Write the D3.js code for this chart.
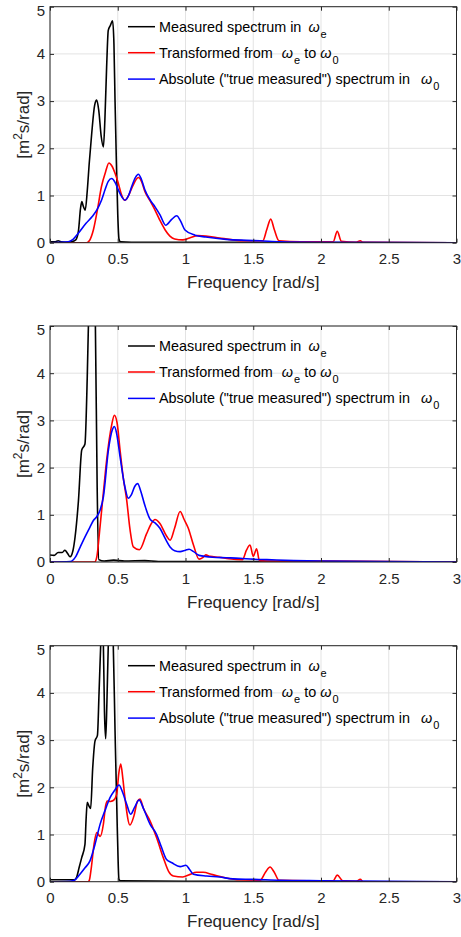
<!DOCTYPE html>
<html>
<head>
<meta charset="utf-8">
<script src="https://cdn.jsdelivr.net/npm/d3@7"></script>
<style>
  body { margin: 0; background: #fff; }
  svg { display: block; font-family: "Liberation Sans", Arial, Helvetica, sans-serif; }
</style>
</head>
<body>
<svg id="chart"></svg>
<script>
// tick values
const xTicks = [0, 0.5, 1, 1.5, 2, 2.5, 3];
const yTicks = [0, 1, 2, 3, 4, 5];

// [frequency, spectrum]
// panel 1
const p1Measured = [[0,0.02],[0.04,0.02],[0.06,0.04],[0.08,0.02],[0.12,0.01],[0.16,0.02],[0.19,0.06],[0.21,0.25],[0.225,0.72],[0.235,0.87],[0.245,0.78],[0.26,0.69],[0.275,1.1],[0.29,1.7],[0.308,2.32],[0.33,2.92],[0.345,3.02],[0.36,2.8],[0.378,2.25],[0.394,2.03],[0.405,2.6],[0.418,3.73],[0.43,4.5],[0.445,4.6],[0.462,4.7],[0.472,4.2],[0.48,3.0],[0.49,1.7],[0.5,0.6],[0.509,0.08],[0.52,0.02],[0.6,0.01],[1,0.01],[1.5,0.01],[3,0]];
const p1Transformed = [[0,0],[0.27,0],[0.29,0.04],[0.32,0.27],[0.35,0.7],[0.38,1.19],[0.41,1.5],[0.435,1.69],[0.458,1.62],[0.48,1.47],[0.505,1.25],[0.524,1.05],[0.553,0.9],[0.58,1.0],[0.61,1.2],[0.652,1.38],[0.675,1.3],[0.701,1.08],[0.74,0.88],[0.775,0.69],[0.81,0.48],[0.85,0.27],[0.885,0.14],[0.92,0.08],[0.98,0.06],[1.03,0.1],[1.09,0.15],[1.15,0.14],[1.25,0.1],[1.35,0.06],[1.45,0.04],[1.57,0.04],[1.6,0.28],[1.629,0.5],[1.655,0.28],[1.69,0.04],[1.85,0.02],[2.09,0.02],[2.12,0.24],[2.15,0.03],[2.26,0.01],[2.29,0.04],[2.31,0.01],[3,0]];
const p1Absolute = [[0,0],[0.135,0.02],[0.17,0.07],[0.209,0.2],[0.266,0.41],[0.31,0.55],[0.345,0.69],[0.38,0.9],[0.406,1.12],[0.43,1.3],[0.455,1.36],[0.48,1.28],[0.504,1.12],[0.53,0.97],[0.553,0.9],[0.58,1.0],[0.603,1.19],[0.63,1.38],[0.652,1.45],[0.675,1.34],[0.7,1.12],[0.74,0.9],[0.775,0.76],[0.812,0.59],[0.854,0.37],[0.9,0.5],[0.935,0.57],[0.965,0.45],[0.996,0.27],[1.07,0.16],[1.15,0.12],[1.3,0.07],[1.45,0.05],[1.55,0.04],[1.7,0.02],[2,0.01],[3,0]];

// panel 2
const p2Measured = [[0,0.15],[0.03,0.14],[0.06,0.2],[0.09,0.2],[0.11,0.25],[0.13,0.18],[0.148,0.11],[0.17,0.25],[0.185,0.53],[0.21,1.3],[0.234,2.37],[0.258,2.5],[0.275,3.93],[0.285,5.2],[0.3,6.5],[0.32,6.3],[0.335,5.0],[0.348,1.6],[0.36,0.05],[0.4,0.02],[0.47,0.04],[0.55,0.02],[0.7,0.03],[0.8,0.01],[1,0.01],[3,0]];
const p2Transformed = [[0,0],[0.33,0],[0.345,0.1],[0.369,0.74],[0.395,1.5],[0.418,2.16],[0.455,2.9],[0.475,3.11],[0.495,2.95],[0.517,2.37],[0.54,1.8],[0.566,1.31],[0.59,0.7],[0.615,0.32],[0.66,0.26],[0.713,0.6],[0.745,0.8],[0.775,0.9],[0.81,0.82],[0.86,0.55],[0.886,0.46],[0.92,0.72],[0.96,1.07],[0.99,0.9],[1.02,0.72],[1.06,0.35],[1.1,0.06],[1.13,0.1],[1.15,0.15],[1.18,0.12],[1.25,0.1],[1.32,0.07],[1.42,0.05],[1.45,0.25],[1.476,0.36],[1.5,0.12],[1.525,0.28],[1.545,0.03],[1.6,0.02],[2,0.02],[3,0]];
const p2Absolute = [[0,0],[0.15,0.01],[0.191,0.12],[0.22,0.3],[0.246,0.46],[0.295,0.74],[0.32,0.88],[0.345,0.96],[0.37,1.1],[0.394,1.38],[0.431,2.37],[0.46,2.8],[0.475,2.87],[0.49,2.75],[0.517,2.23],[0.553,1.59],[0.578,1.35],[0.6,1.42],[0.625,1.6],[0.647,1.66],[0.67,1.5],[0.7,1.2],[0.74,0.9],[0.775,0.83],[0.81,0.72],[0.85,0.5],[0.886,0.32],[0.92,0.24],[0.96,0.22],[1.0,0.25],[1.026,0.27],[1.06,0.22],[1.1,0.14],[1.2,0.1],[1.3,0.09],[1.4,0.08],[1.5,0.06],[1.6,0.05],[1.8,0.03],[2,0.02],[2.5,0.01],[3,0]];

// panel 3
const p3Measured = [[0,0.04],[0.1,0.04],[0.18,0.04],[0.197,0.1],[0.215,0.3],[0.234,0.51],[0.258,0.79],[0.266,1.3],[0.275,1.68],[0.288,1.6],[0.3,1.55],[0.315,2.4],[0.332,2.98],[0.35,3.1],[0.362,4.0],[0.374,5.0],[0.384,5.6],[0.394,5.0],[0.402,3.6],[0.411,3.03],[0.42,3.8],[0.43,5.0],[0.445,5.7],[0.46,5.4],[0.467,5.0],[0.48,3.2],[0.497,1.08],[0.509,0.05],[0.52,0.02],[1,0.01],[3,0]];
const p3Transformed = [[0,0],[0.28,0],[0.29,0.03],[0.305,0.3],[0.325,0.79],[0.345,1.04],[0.37,0.96],[0.394,1.22],[0.41,1.6],[0.423,1.71],[0.445,1.7],[0.467,1.72],[0.492,1.85],[0.508,2.3],[0.522,2.49],[0.537,2.2],[0.553,1.78],[0.59,1.2],[0.62,1.4],[0.645,1.7],[0.664,1.75],[0.69,1.55],[0.738,1.29],[0.787,0.93],[0.836,0.51],[0.875,0.22],[0.91,0.12],[0.98,0.1],[1.03,0.15],[1.08,0.2],[1.13,0.2],[1.2,0.15],[1.3,0.08],[1.4,0.04],[1.55,0.03],[1.59,0.2],[1.624,0.31],[1.655,0.2],[1.69,0.03],[1.9,0.02],[2.09,0.02],[2.12,0.14],[2.16,0.02],[2.26,0.01],[2.29,0.05],[2.31,0],[3,0]];
const p3Absolute = [[0,0],[0.15,0.01],[0.18,0.03],[0.221,0.16],[0.26,0.3],[0.295,0.44],[0.332,0.79],[0.37,1.22],[0.405,1.5],[0.443,1.78],[0.48,1.95],[0.509,2.05],[0.535,1.9],[0.566,1.64],[0.595,1.43],[0.625,1.58],[0.657,1.73],[0.69,1.55],[0.738,1.22],[0.787,1.0],[0.82,0.75],[0.86,0.47],[0.9,0.4],[0.96,0.32],[1.003,0.35],[1.03,0.26],[1.058,0.16],[1.157,0.12],[1.25,0.1],[1.35,0.06],[1.5,0.05],[1.7,0.03],[2,0.02],[3,0]];

const seriesColors = ['#000000', '#ff0000', '#0000ff'];
const xLabel = 'Frequency [rad/s]';

const panels = [
  [p1Measured, p1Transformed, p1Absolute],
  [p2Measured, p2Transformed, p2Absolute],
  [p3Measured, p3Transformed, p3Absolute]
];
const panelTops = [6.7, 326, 645.7];

let W = 461, H = 937;
let marginL = 50, marginR = 4.5;
let ph = 236;

let svg = d3.select('#chart').attr('width', W).attr('height', H);

function addLegend(g) {
  let rows = g.append('g').attr('transform', 'translate(78, 0)');
  let rowY = [20, 46, 72.4];
  seriesColors.forEach((c, i) => {
    rows.append('line')
      .attr('x1', 0).attr('x2', 27)
      .attr('y1', rowY[i]).attr('y2', rowY[i])
      .attr('stroke', c).attr('stroke-width', 1.5);
  });
  let t = (i) => rows.append('text')
    .attr('x', 31).attr('y', rowY[i] + 5)
    .attr('font-size', 14.4).attr('fill', '#000');

  // row 1
  let t1 = t(0);
  t1.append('tspan').text('Measured spectrum in');
  t1.append('tspan').attr('dx', 7).attr('font-style', 'italic').text('ω');
  t1.append('tspan').attr('dx', 1).attr('dy', 6).attr('font-size', 11).text('e');

  // row 2
  let t2 = t(1);
  t2.append('tspan').text('Transformed from');
  t2.append('tspan').attr('dx', 9).attr('font-style', 'italic').text('ω');
  t2.append('tspan').attr('dx', 1).attr('dy', 6).attr('font-size', 11).text('e');
  t2.append('tspan').attr('dx', 4).attr('dy', -6).text('to');
  t2.append('tspan').attr('dx', 4).attr('font-style', 'italic').text('ω');
  t2.append('tspan').attr('dx', 1).attr('dy', 6).attr('font-size', 11).text('0');

  // row 3
  let t3 = t(2);
  t3.append('tspan').text('Absolute ("true measured") spectrum in');
  t3.append('tspan').attr('dx', 11).attr('font-style', 'italic').text('ω');
  t3.append('tspan').attr('dx', 1).attr('dy', 6).attr('font-size', 11).text('0');
}

function makePanel(data, top, idx) {
  let w = W - marginL - marginR;
  let g = svg.append('g').attr('transform', `translate(${marginL}, ${top})`);

  let xScale = d3.scaleLinear().domain([0, 3]).range([0, w]);
  let yScale = d3.scaleLinear().domain([0, 5]).range([ph, 0]);

  // grid
  g.append('g')
    .selectAll('line.gx')
    .data(xTicks)
    .enter().append('line')
    .attr('x1', d => xScale(d)).attr('x2', d => xScale(d))
    .attr('y1', 0).attr('y2', ph)
    .attr('stroke', '#e3e3e3').attr('stroke-width', 1);
  g.append('g')
    .selectAll('line.gy')
    .data(yTicks)
    .enter().append('line')
    .attr('x1', 0).attr('x2', w)
    .attr('y1', d => yScale(d)).attr('y2', d => yScale(d))
    .attr('stroke', '#e3e3e3').attr('stroke-width', 1);

  // clip
  let clipId = 'clip' + idx;
  g.append('clipPath').attr('id', clipId)
    .append('rect').attr('x', 0).attr('y', 0).attr('width', w).attr('height', ph);

  let line = d3.line()
    .x(d => xScale(d[0]))
    .y(d => yScale(d[1]))
    .curve(d3.curveMonotoneX);

  g.append('g').attr('clip-path', `url(#${clipId})`)
    .selectAll('path')
    .data(data)
    .enter().append('path')
    .attr('d', line)
    .attr('fill', 'none')
    .attr('stroke', (d, i) => seriesColors[i])
    .attr('stroke-width', 1.6)
    .attr('stroke-linejoin', 'round');

  // axes (MATLAB style inward ticks on all four sides)
  let xAxis = d3.axisBottom(xScale).tickValues(xTicks).tickFormat(d => String(d)).tickSizeInner(-4).tickSizeOuter(0).tickPadding(11);
  let yAxis = d3.axisLeft(yScale).tickValues(yTicks).tickFormat(d => String(d)).tickSizeInner(-4).tickSizeOuter(0).tickPadding(5);

  let gx = g.append('g').attr('transform', `translate(0, ${ph})`).call(xAxis);
  let gy = g.append('g').call(yAxis);
  g.append('g').call(d3.axisTop(xScale).tickValues(xTicks).tickFormat('').tickSizeInner(-4).tickSizeOuter(0));
  g.append('g').attr('transform', `translate(${w}, 0)`)
    .call(d3.axisRight(yScale).tickValues(yTicks).tickFormat('').tickSizeInner(-4).tickSizeOuter(0));

  g.selectAll('.domain').remove();
  g.selectAll('.tick line').attr('stroke', '#262626');
  [gx, gy].forEach(a => a.selectAll('text')
    .attr('font-size', 15)
    .attr('fill', '#262626')
    .style('font-family', '"Liberation Sans", Arial, sans-serif'));
  // top label sits a little lower, as in the original
  gy.selectAll('.tick').filter(d => d === 5).select('text').attr('y', 3.5);

  g.append('rect')
    .attr('x', 0).attr('y', 0).attr('width', w).attr('height', ph)
    .attr('fill', 'none').attr('stroke', '#262626').attr('stroke-width', 1);

  addLegend(g);

  // x label
  g.append('text')
    .attr('x', xScale(1.5))
    .attr('y', ph + 45.6)
    .attr('text-anchor', 'middle')
    .attr('font-size', 17)
    .attr('fill', '#262626')
    .text(xLabel);

  // y label
  let yl = g.append('text')
    .attr('transform', `translate(${29 - marginL}, ${ph / 2}) rotate(-90)`)
    .attr('text-anchor', 'middle')
    .attr('font-size', 17)
    .attr('fill', '#262626');
  yl.append('tspan').text('[m');
  yl.append('tspan').attr('dy', -7).attr('font-size', 12).text('2');
  yl.append('tspan').attr('dy', 7).text('s/rad]');
}

panels.forEach((p, i) => makePanel(p, panelTops[i], i));
</script>
</body>
</html>
